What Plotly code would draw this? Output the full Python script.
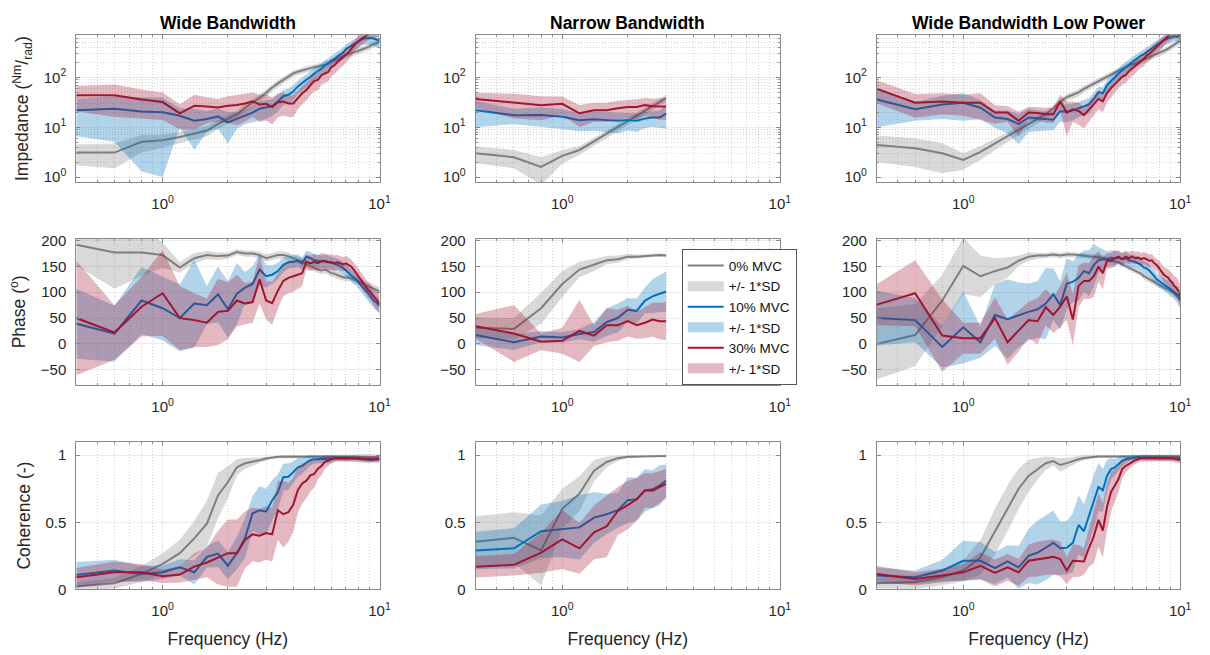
import numpy as np
import plotly.graph_objects as go

# ---------------------------------------------------------------------------
# Frequency grids (Hz)
# ---------------------------------------------------------------------------
freq_wide = [0.4, 0.6, 0.8, 1.0, 1.2, 1.4, 1.6, 1.8, 2.0, 2.2, 2.4, 2.6, 2.8, 3.0,
             3.2, 3.4, 3.6, 3.8, 4.0, 4.2, 4.4, 4.6, 4.8, 5.0, 5.2, 5.4, 5.6, 5.8,
             6.0, 6.2, 6.4, 6.6, 6.8, 7.0, 7.2, 7.4, 7.6, 7.8, 8.0, 8.2, 8.4, 8.6,
             8.8, 9.0, 9.2, 9.4, 9.6, 9.8, 10.0]
freq_narrow = [0.4, 0.6, 0.8, 1.0, 1.2, 1.4, 1.6, 1.8, 2.0, 2.2, 2.4, 2.6, 2.8, 3.0]

column_titles = ["Wide Bandwidth", "Narrow Bandwidth", "Wide Bandwidth Low Power"]
series_names = ["0% MVC", "10% MVC", "30% MVC"]
band_name = "+/- 1*SD"

# ---------------------------------------------------------------------------
# Wide bandwidth: impedance (Nm/rad), mean and SD
# ---------------------------------------------------------------------------
wide_imp_0_mean = [3.1, 3.1, 5.1, 5.5, 6.4, 7.4, 8.6, 11.7, 14.6, 18.3, 24.7, 31, 39, 49,
                   63, 76, 89, 103, 120, 130, 139, 147, 154, 160, 167, 173, 180, 195,
                   210, 222, 236, 250, 266, 280, 295, 305, 318, 330, 344, 357, 370, 385,
                   400, 420, 444, 465, 486, 503, 520]
wide_imp_0_sd = [1.4, 1.6, 2.0, 1.6, 1.6, 1.8, 2.0, 2.5, 3, 3.5, 4.5, 5.5, 7, 8.5,
                 10, 12, 13, 15, 17, 18, 19, 20, 21, 22, 23, 24, 25, 27,
                 29, 31, 33, 35, 37, 39, 41, 43, 45, 47, 50, 52, 55, 58,
                 60, 64, 68, 72, 76, 80, 84]
wide_imp_10_mean = [22, 23.6, 20.6, 20, 17, 13.5, 14.6, 16.5, 12.5, 14.6, 17, 19.6, 23.6, 24.7,
                    26.6, 33, 42, 45, 52, 66, 76, 89, 103, 120, 133, 150, 175, 188,
                    219, 236, 266, 295, 318, 370, 400, 430, 465, 500, 540, 580, 600, 610,
                    615, 615, 610, 605, 585, 565, 545]
wide_imp_10_sd = [15.4, 18.5, 19.3, 19, 7, 10, 6.6, 7.2, 7.8, 5.3, 5.4, 7, 10, 10,
                  10, 12, 14, 15, 17, 20, 23, 26, 30, 34, 38, 42, 48, 52,
                  58, 63, 70, 77, 83, 95, 100, 108, 115, 122, 130, 138, 145, 150,
                  155, 160, 165, 170, 170, 170, 170]
wide_imp_30_mean = [44, 44, 36, 32, 19, 27, 26, 25, 27, 28, 30, 33, 28.7, 29.6,
                    25.4, 31.8, 33, 30, 30, 39, 48, 56, 71, 85, 89, 111, 120, 129,
                    162, 175, 204, 228, 254, 282, 318, 370, 430, 488, 540, 580, 630, 690,
                    740, 790, 820, 840, 860, 880, 900]
wide_imp_30_sd = [23, 28, 21, 18, 10, 18, 14, 12, 15, 17, 17, 17, 16, 16,
                  14, 16, 16, 14, 14, 16, 19, 22, 27, 32, 34, 40, 43, 46,
                  55, 58, 65, 72, 78, 85, 95, 105, 120, 135, 150, 160, 170, 180,
                  190, 200, 210, 215, 220, 225, 230]

# Wide bandwidth: phase (deg)
wide_ph_0_mean = [192, 177, 177, 172, 148, 166, 172, 170, 171, 178, 175, 175, 172, 166,
                  169, 172, 172, 170, 166, 163, 160, 154, 150, 147, 144, 142, 144, 141,
                  137, 136, 133, 131, 129, 128, 129, 127, 125, 123, 122, 119, 117, 114,
                  112, 111, 109, 107, 106, 104, 102]
wide_ph_0_sd = [40, 70, 45, 25, 10, 10, 8, 7, 6, 6, 6, 6, 7, 7,
                7, 7, 7, 7, 7, 7, 7, 7, 7, 7, 7, 7, 7, 7,
                7, 7, 7, 7, 7, 7, 7, 7, 7, 7, 7, 7, 8, 8,
                8, 8, 8, 8, 8, 8, 8]
wide_ph_10_mean = [39, 20, 84, 69, 50, 78, 75, 96, 67, 97, 109, 116, 144, 131,
                   134, 141, 153, 158, 159, 161, 156, 169, 166, 162, 161, 159, 161, 159,
                   156, 154, 153, 150, 147, 142, 137, 134, 128, 125, 119, 114, 109, 104,
                   100, 94, 89, 84, 81, 78, 73]
wide_ph_10_sd = [68, 54, 65, 62, 65, 85, 37, 54, 55, 59, 30, 34, 31, 22,
                 18, 16, 14, 12, 12, 12, 12, 12, 12, 12, 12, 12, 12, 12,
                 12, 12, 12, 12, 12, 12, 12, 12, 12, 12, 12, 13, 13, 14,
                 14, 15, 15, 15, 15, 15, 15]
wide_ph_30_mean = [50, 22, 72, 98, 50, 46, 41, 62, 64, 84, 78, 81, 125, 84,
                   79, 103, 122, 128, 131, 134, 137, 159, 156, 159, 156, 161, 159, 158,
                   158, 156, 158, 156, 154, 156, 153, 150, 144, 137, 131, 125, 119, 112,
                   106, 102, 97, 91, 86, 81, 78]
wide_ph_30_sd = [111, 53, 58, 83, 62, 52, 47, 64, 55, 50, 40, 40, 47, 37,
                 42, 35, 30, 30, 30, 28, 25, 15, 15, 15, 15, 15, 15, 15,
                 15, 15, 14, 14, 14, 14, 14, 14, 14, 14, 14, 14, 14, 15,
                 15, 15, 16, 16, 17, 17, 17]

# Wide bandwidth: coherence (-)
wide_coh_0_mean = [0.022, 0.046, 0.115, 0.19, 0.27, 0.38, 0.49, 0.70, 0.80, 0.91, 0.94, 0.95, 0.963, 0.976,
                   0.983, 0.988, 0.99, 0.99, 0.99, 0.99, 0.99, 0.99, 0.99, 0.99, 0.99, 0.99, 0.99, 0.99,
                   0.99, 0.99, 0.99, 0.99, 0.99, 0.99, 0.99, 0.99, 0.99, 0.99, 0.99, 0.99, 0.985, 0.985,
                   0.985, 0.985, 0.985, 0.985, 0.985, 0.985, 0.985]
wide_coh_0_sd = [0.03, 0.04, 0.06, 0.08, 0.10, 0.13, 0.17, 0.17, 0.12, 0.06, 0.04, 0.03, 0.02, 0.015,
                 0.01, 0.01, 0.01, 0.01, 0.01, 0.01, 0.01, 0.01, 0.01, 0.01, 0.01, 0.01, 0.01, 0.01,
                 0.01, 0.01, 0.01, 0.01, 0.01, 0.01, 0.01, 0.01, 0.01, 0.01, 0.015, 0.02, 0.025, 0.03,
                 0.03, 0.03, 0.03, 0.025, 0.02, 0.02, 0.02]
wide_coh_10_mean = [0.108, 0.14, 0.115, 0.127, 0.164, 0.127, 0.242, 0.267, 0.176, 0.27, 0.384, 0.567, 0.59, 0.58,
                    0.665, 0.726, 0.836, 0.84, 0.873, 0.91, 0.92, 0.946, 0.963, 0.97, 0.97, 0.97, 0.97, 0.97,
                    0.972, 0.975, 0.978, 0.978, 0.978, 0.978, 0.978, 0.978, 0.978, 0.978, 0.975, 0.972, 0.97, 0.968,
                    0.965, 0.965, 0.965, 0.968, 0.97, 0.972, 0.975]
wide_coh_10_sd = [0.095, 0.08, 0.06, 0.05, 0.06, 0.09, 0.08, 0.10, 0.10, 0.12, 0.15, 0.13, 0.18, 0.17,
                  0.15, 0.13, 0.10, 0.10, 0.08, 0.07, 0.06, 0.05, 0.04, 0.03, 0.03, 0.03, 0.03, 0.03,
                  0.03, 0.025, 0.02, 0.02, 0.02, 0.02, 0.02, 0.02, 0.02, 0.02, 0.02, 0.02, 0.02, 0.02,
                  0.02, 0.02, 0.02, 0.02, 0.02, 0.02, 0.02]
wide_coh_30_mean = [0.09, 0.127, 0.127, 0.098, 0.11, 0.17, 0.20, 0.237, 0.27, 0.27, 0.37, 0.41, 0.40, 0.42,
                    0.41, 0.59, 0.56, 0.575, 0.63, 0.74, 0.79, 0.81, 0.85, 0.86, 0.90, 0.92, 0.95, 0.96,
                    0.97, 0.978, 0.978, 0.978, 0.978, 0.978, 0.978, 0.978, 0.978, 0.975, 0.975, 0.972, 0.972, 0.97,
                    0.97, 0.97, 0.97, 0.968, 0.968, 0.968, 0.968]
wide_coh_30_sd = [0.07, 0.08, 0.06, 0.05, 0.06, 0.10, 0.11, 0.20, 0.25, 0.25, 0.21, 0.20, 0.20, 0.20,
                  0.20, 0.22, 0.25, 0.22, 0.20, 0.17, 0.15, 0.13, 0.12, 0.10, 0.08, 0.07, 0.05, 0.04,
                  0.03, 0.025, 0.025, 0.025, 0.025, 0.025, 0.025, 0.025, 0.025, 0.025, 0.025, 0.025, 0.025, 0.025,
                  0.025, 0.025, 0.025, 0.025, 0.025, 0.025, 0.025]

# ---------------------------------------------------------------------------
# Narrow bandwidth
# ---------------------------------------------------------------------------
narrow_imp_0_mean = [3.0, 2.5, 1.6, 2.66, 3.5, 5.2, 7.4, 10.1, 13.3, 17.2, 21.6, 26.2, 32, 38.7]
narrow_imp_0_sd = [1.1, 1.0, 0.9, 0.8, 0.7, 0.9, 1.2, 1.6, 2.0, 2.6, 3.2, 3.9, 4.8, 6.0]
narrow_imp_10_mean = [22, 17.5, 17.7, 16.2, 13.9, 14.5, 13.9, 13.5, 13.9, 13.5, 15, 15.7, 15.7, 18.8]
narrow_imp_10_sd = [12, 6, 7.5, 7, 5.6, 6, 6, 6, 5.3, 5.5, 5.5, 5.5, 6, 9.5]
narrow_imp_30_mean = [37, 31, 27.8, 29.5, 19.1, 21.9, 21.9, 24, 25.4, 25.4, 27.8, 26.5, 26.2, 26.2]
narrow_imp_30_sd = [13, 16, 14, 12, 9, 9, 9, 10, 10, 11, 11, 11, 12, 12]

narrow_ph_0_mean = [31, 29, 69, 116, 144, 153, 162, 164, 169, 169, 170, 171, 172, 171]
narrow_ph_0_sd = [20, 21, 30, 25, 15, 12, 8, 7, 5, 4, 3, 3, 3, 3]
narrow_ph_10_mean = [17, 3, 14, 12.5, 19, 23, 42, 50, 66, 64, 84, 92, 97, 101]
narrow_ph_10_sd = [19, 15, 11, 10, 10, 19, 27, 28, 23, 24, 25, 33, 36, 39]
narrow_ph_30_mean = [34, 20, 4, 6, 25, 16, 36, 36, 44, 36, 41, 47, 44, 44]
narrow_ph_30_sd = [24, 55, 16, 25, 60, 20, 33, 30, 30, 26, 30, 33, 35, 37]

narrow_coh_0_mean = [0.355, 0.384, 0.29, 0.60, 0.714, 0.885, 0.95, 0.978, 0.988, 0.99, 0.995, 0.995, 0.995, 0.995]
narrow_coh_0_sd = [0.19, 0.19, 0.26, 0.15, 0.13, 0.08, 0.04, 0.02, 0.01, 0.01, 0.005, 0.005, 0.005, 0.005]
narrow_coh_10_mean = [0.29, 0.306, 0.433, 0.45, 0.462, 0.535, 0.56, 0.59, 0.665, 0.672, 0.738, 0.746, 0.775, 0.81]
narrow_coh_10_sd = [0.14, 0.15, 0.20, 0.21, 0.24, 0.19, 0.15, 0.13, 0.17, 0.16, 0.16, 0.14, 0.15, 0.12]
narrow_coh_30_mean = [0.169, 0.183, 0.274, 0.372, 0.306, 0.425, 0.47, 0.584, 0.628, 0.672, 0.738, 0.736, 0.763, 0.787]
narrow_coh_30_sd = [0.08, 0.08, 0.15, 0.22, 0.19, 0.20, 0.23, 0.18, 0.18, 0.16, 0.13, 0.13, 0.12, 0.11]

# ---------------------------------------------------------------------------
# Wide bandwidth, low power
# ---------------------------------------------------------------------------
low_imp_0_mean = [4.4, 3.8, 3.0, 2.2, 3.2, 4.7, 6.4, 8.6, 11.3, 14.6, 18.3, 24, 33, 40,
                  45, 50, 59, 67, 76, 85, 93, 106, 116, 129, 139, 150, 162, 175,
                  180, 188, 203, 215, 225, 236, 254, 266, 282, 291, 304, 318, 338, 358,
                  380, 400, 430, 457, 486, 517, 540]
low_imp_0_sd = [2.4, 2.2, 1.8, 0.8, 1.0, 1.2, 1.5, 1.8, 2.2, 2.7, 3.2, 4, 5, 6,
                7, 8, 9, 10, 11, 12, 13, 15, 16, 18, 19, 21, 22, 24,
                25, 26, 28, 30, 31, 33, 35, 37, 39, 40, 42, 44, 47, 50,
                53, 56, 60, 64, 68, 72, 76]
low_imp_10_mean = [36, 22.9, 28.7, 31, 24.7, 15.7, 14.6, 11.6, 15.7, 15.2, 14.6, 14.1, 21, 20.5,
                   21.8, 24, 26.5, 28.7, 37.6, 50.8, 48.5, 70, 85, 103, 120, 139, 162, 180,
                   203, 228, 254, 275, 295, 318, 353, 380, 417, 450, 490, 517, 560, 580,
                   610, 646, 660, 680, 660, 680, 700]
low_imp_10_sd = [26, 9.4, 14, 17.5, 10, 6, 7, 7, 7.7, 7, 6, 5.5, 8, 8,
                 8, 8, 9, 10, 12, 15, 15, 20, 25, 30, 35, 40, 45, 50,
                 55, 60, 65, 70, 75, 80, 88, 95, 100, 110, 120, 125, 130, 135,
                 140, 145, 150, 150, 150, 150, 150]
low_imp_30_mean = [59, 31, 33, 31, 31, 19.7, 19.7, 13.5, 19.7, 19.4, 18.3, 18.3, 33, 19.7,
                   22.9, 21.2, 17.5, 22.9, 29.5, 37, 33, 48.5, 61, 73, 89, 103, 111, 133,
                   150, 169, 196, 219, 236, 275, 295, 330, 370, 400, 444, 500, 560, 630,
                   680, 720, 760, 780, 800, 800, 820]
low_imp_30_sd = [29, 15.5, 15, 14, 17, 8, 7, 7, 6, 6, 6, 6, 12, 13,
                 10, 10, 8, 10, 12, 14, 13, 17, 20, 24, 28, 32, 35, 40,
                 45, 50, 55, 62, 68, 75, 82, 90, 100, 110, 120, 130, 140, 150,
                 160, 170, 180, 190, 200, 200, 200]

low_ph_0_mean = [0, 17, 84, 151, 131, 141, 148, 161, 169, 171, 171, 173, 171, 173,
                 173, 172, 171, 170, 169, 169, 167, 164, 162, 161, 158, 154, 151, 148,
                 145, 142, 139, 136, 131, 128, 125, 122, 119, 116, 114, 112, 109, 107,
                 106, 103, 101, 98, 96, 92, 89]
low_ph_0_sd = [69, 60, 50, 55, 40, 25, 20, 10, 8, 6, 5, 5, 5, 5,
               5, 5, 5, 5, 5, 5, 5, 5, 5, 5, 5, 5, 5, 5,
               5, 5, 5, 5, 6, 6, 6, 6, 6, 6, 6, 6, 6, 6,
               6, 6, 6, 6, 6, 6, 6]
low_ph_10_mean = [50, 46, -6, 32, 3, 56, 48, 56, 62, 67, 78, 96, 75, 117,
                  120, 128, 141, 137, 153, 162, 164, 164, 167, 166, 167, 164, 166, 162,
                  161, 159, 156, 153, 148, 146, 142, 137, 131, 125, 122, 119, 116, 112,
                  109, 106, 103, 100, 97, 92, 84]
low_ph_10_sd = [53, 43, 40, 70, 30, 60, 77, 63, 55, 55, 69, 50, 47, 49,
                40, 45, 40, 45, 41, 25, 20, 15, 15, 15, 12, 12, 12, 12,
                12, 12, 12, 12, 12, 12, 12, 12, 12, 12, 12, 12, 12, 12,
                13, 13, 14, 14, 15, 15, 15]
low_ph_30_mean = [76, 98, 16, 11, 11, 50, 3, 25, 46, 44, 71, 56, 72, 92,
                  47, 112, 122, 122, 131, 150, 137, 161, 161, 166, 169, 164, 169, 166,
                  169, 166, 167, 164, 166, 164, 161, 162, 156, 153, 147, 141, 134, 131,
                  128, 122, 119, 112, 109, 103, 92]
low_ph_30_sd = [40, 64, 70, 30, 30, 40, 44, 40, 35, 45, 35, 35, 40, 45,
                50, 40, 35, 35, 40, 30, 30, 15, 15, 15, 12, 12, 12, 12,
                12, 12, 12, 12, 12, 12, 12, 12, 12, 12, 14, 14, 15, 16,
                17, 18, 18, 19, 20, 20, 20]

low_coh_0_mean = [0.046, 0.054, 0.09, 0.14, 0.237, 0.433, 0.604, 0.75, 0.846, 0.897, 0.94, 0.956, 0.927, 0.941,
                  0.958, 0.97, 0.98, 0.985, 0.99, 0.99, 0.99, 0.99, 0.99, 0.99, 0.99, 0.99, 0.99, 0.99,
                  0.99, 0.99, 0.99, 0.99, 0.99, 0.99, 0.99, 0.99, 0.99, 0.99, 0.99, 0.99, 0.99, 0.99,
                  0.99, 0.99, 0.99, 0.99, 0.99, 0.99, 0.99]
low_coh_0_sd = [0.04, 0.05, 0.06, 0.08, 0.13, 0.17, 0.17, 0.15, 0.12, 0.08, 0.05, 0.03, 0.05, 0.04,
                0.03, 0.02, 0.02, 0.015, 0.01, 0.01, 0.01, 0.01, 0.01, 0.01, 0.01, 0.01, 0.01, 0.01,
                0.01, 0.01, 0.01, 0.01, 0.01, 0.01, 0.01, 0.01, 0.01, 0.01, 0.01, 0.01, 0.01, 0.01,
                0.01, 0.015, 0.015, 0.015, 0.015, 0.015, 0.015]
low_coh_10_mean = [0.103, 0.09, 0.14, 0.213, 0.213, 0.159, 0.208, 0.164, 0.25, 0.274, 0.31, 0.347, 0.306, 0.31,
                   0.347, 0.48, 0.433, 0.555, 0.653, 0.763, 0.738, 0.848, 0.897, 0.91, 0.934, 0.958, 0.97, 0.975,
                   0.983, 0.983, 0.983, 0.983, 0.983, 0.983, 0.983, 0.983, 0.983, 0.983, 0.983, 0.98, 0.98, 0.98,
                   0.98, 0.978, 0.978, 0.978, 0.978, 0.978, 0.978]
low_coh_10_sd = [0.06, 0.05, 0.08, 0.15, 0.14, 0.12, 0.12, 0.16, 0.20, 0.24, 0.24, 0.24, 0.20, 0.20,
                 0.22, 0.22, 0.20, 0.20, 0.20, 0.18, 0.16, 0.12, 0.08, 0.06, 0.05, 0.04, 0.03, 0.02,
                 0.02, 0.02, 0.02, 0.02, 0.02, 0.02, 0.02, 0.02, 0.02, 0.02, 0.02, 0.02, 0.02, 0.02,
                 0.02, 0.02, 0.02, 0.02, 0.02, 0.02, 0.02]
low_coh_30_mean = [0.115, 0.078, 0.103, 0.127, 0.176, 0.122, 0.164, 0.127, 0.213, 0.225, 0.237, 0.242, 0.225, 0.14,
                   0.213, 0.213, 0.208, 0.31, 0.396, 0.518, 0.438, 0.616, 0.726, 0.775, 0.824, 0.897, 0.92, 0.934,
                   0.95, 0.963, 0.97, 0.978, 0.978, 0.978, 0.978, 0.978, 0.978, 0.978, 0.978, 0.978, 0.978, 0.978,
                   0.978, 0.978, 0.978, 0.975, 0.97, 0.968, 0.965]
low_coh_30_sd = [0.06, 0.05, 0.05, 0.06, 0.10, 0.10, 0.10, 0.10, 0.12, 0.13, 0.13, 0.13, 0.13, 0.10,
                 0.12, 0.12, 0.10, 0.14, 0.20, 0.20, 0.20, 0.18, 0.15, 0.12, 0.10, 0.07, 0.05, 0.04,
                 0.03, 0.03, 0.025, 0.025, 0.025, 0.025, 0.025, 0.025, 0.025, 0.025, 0.025, 0.025, 0.025, 0.025,
                 0.025, 0.025, 0.025, 0.025, 0.025, 0.025, 0.025]

# ---------------------------------------------------------------------------
# Panel table: (row, col, frequency grid, kind, [(mean, sd) per MVC level])
# ---------------------------------------------------------------------------
panels = [
    (0, 0, freq_wide, "imp", [(wide_imp_0_mean, wide_imp_0_sd), (wide_imp_10_mean, wide_imp_10_sd), (wide_imp_30_mean, wide_imp_30_sd)]),
    (0, 1, freq_narrow, "imp", [(narrow_imp_0_mean, narrow_imp_0_sd), (narrow_imp_10_mean, narrow_imp_10_sd), (narrow_imp_30_mean, narrow_imp_30_sd)]),
    (0, 2, freq_wide, "imp", [(low_imp_0_mean, low_imp_0_sd), (low_imp_10_mean, low_imp_10_sd), (low_imp_30_mean, low_imp_30_sd)]),
    (1, 0, freq_wide, "ph", [(wide_ph_0_mean, wide_ph_0_sd), (wide_ph_10_mean, wide_ph_10_sd), (wide_ph_30_mean, wide_ph_30_sd)]),
    (1, 1, freq_narrow, "ph", [(narrow_ph_0_mean, narrow_ph_0_sd), (narrow_ph_10_mean, narrow_ph_10_sd), (narrow_ph_30_mean, narrow_ph_30_sd)]),
    (1, 2, freq_wide, "ph", [(low_ph_0_mean, low_ph_0_sd), (low_ph_10_mean, low_ph_10_sd), (low_ph_30_mean, low_ph_30_sd)]),
    (2, 0, freq_wide, "coh", [(wide_coh_0_mean, wide_coh_0_sd), (wide_coh_10_mean, wide_coh_10_sd), (wide_coh_30_mean, wide_coh_30_sd)]),
    (2, 1, freq_narrow, "coh", [(narrow_coh_0_mean, narrow_coh_0_sd), (narrow_coh_10_mean, narrow_coh_10_sd), (narrow_coh_30_mean, narrow_coh_30_sd)]),
    (2, 2, freq_wide, "coh", [(low_coh_0_mean, low_coh_0_sd), (low_coh_10_mean, low_coh_10_sd), (low_coh_30_mean, low_coh_30_sd)]),
]

# ---------------------------------------------------------------------------
# Styling
# ---------------------------------------------------------------------------
W, H = 1210, 655
FONT = "Liberation Sans, Arial, Helvetica, sans-serif"
TXT = "#262626"
AXLINE = "#8a8a8a"
line_colors = ["#7f7f7f", "#0072bd", "#a2142f"]
band_colors = ["rgba(128,128,128,0.30)", "rgba(0,114,189,0.30)", "rgba(162,20,47,0.30)"]
band_swatch = ["#d9d9d9", "#b2d5eb", "#e3b8c1"]

col_px = [(77, 383), (480, 787), (885, 1191)]
row_px = [(29, 179), (237, 387), (445, 596)]

fig = go.Figure()

LEGEND_PANEL = 4  # middle phase panel
for idx, (r, c, freq, kind, series) in enumerate(panels):
    n = r * 3 + c + 1
    xa = "x" if n == 1 else f"x{n}"
    ya = "y" if n == 1 else f"y{n}"
    for s, (mean, sd) in enumerate(series):
        m = np.asarray(mean, dtype=float)
        d = np.asarray(sd, dtype=float)
        hi = m + d
        lo = m - d
        if kind == "imp":
            lo = np.maximum(lo, 0.05)
        fig.add_trace(go.Scatter(
            x=list(freq) + list(freq[::-1]), y=list(hi) + list(lo[::-1]),
            fill="toself", fillcolor=band_colors[s], mode="lines",
            line=dict(width=0, color=band_colors[s]), hoverinfo="skip",
            showlegend=False, xaxis=xa, yaxis=ya))
        fig.add_trace(go.Scatter(
            x=freq, y=m, mode="lines", line=dict(color=line_colors[s], width=2),
            name=series_names[s], legendrank=2 * s + 1,
            showlegend=(idx == LEGEND_PANEL), xaxis=xa, yaxis=ya))
        if idx == LEGEND_PANEL:
            # legend swatch for the +/- 1 SD band
            fig.add_trace(go.Scatter(
                x=[None], y=[None], mode="lines",
                line=dict(color=band_swatch[s], width=13),
                name=band_name, legendrank=2 * s + 2, showlegend=True,
                xaxis=xa, yaxis=ya))

x_minor = [0.5, 0.6, 0.7, 0.8, 0.9, 2, 3, 4, 5, 6, 7, 8, 9]
y_minor_log = [2, 3, 4, 5, 6, 7, 8, 9, 20, 30, 40, 50, 60, 70, 80, 90,
               200, 300, 400, 500, 600, 700]
GRID = "rgba(38,38,38,0.09)"
MGRID = "rgba(38,38,38,0.20)"
MDASH = "1px,2px"

layout = dict(
    width=W, height=H, margin=dict(l=0, r=0, t=0, b=0),
    paper_bgcolor="white", plot_bgcolor="white",
    font=dict(family=FONT, color=TXT, size=15),
    showlegend=True,
    legend=dict(x=688 / W, y=1 - 248 / H, xanchor="left", yanchor="top",
                bgcolor="white", bordercolor="#555555", borderwidth=1,
                font=dict(family=FONT, size=13.5, color="#111111"),
                itemwidth=36, traceorder="normal", tracegroupgap=0),
    annotations=[],
)

for n in range(1, 10):
    r, c = (n - 1) // 3, (n - 1) % 3
    x0, x1 = col_px[c]
    y0, y1 = row_px[r]
    kx = "xaxis" if n == 1 else f"xaxis{n}"
    ky = "yaxis" if n == 1 else f"yaxis{n}"
    common = dict(showline=True, linecolor=AXLINE, linewidth=1, mirror="ticks",
                  ticks="inside", ticklen=4, tickcolor=AXLINE, showgrid=True,
                  gridcolor=GRID, gridwidth=1, zeroline=False,
                  tickfont=dict(family=FONT, size=15, color=TXT))
    xa = dict(common, domain=[x0 / W, x1 / W], anchor="y" if n == 1 else f"y{n}",
              type="log", range=[np.log10(0.4), 1.0],
              tickvals=[1, 10], ticktext=["10<sup>0</sup>", "10<sup>1</sup>"],
              ticklabelstandoff=8,
              minor=dict(tickvals=x_minor, ticks="inside", ticklen=2, tickcolor=AXLINE,
                         showgrid=True, gridcolor=MGRID, griddash=MDASH, gridwidth=1))
    if r == 2:
        xa["title"] = dict(text="Frequency (Hz)", font=dict(family=FONT, size=17.5, color=TXT), standoff=14)
    ya = dict(common, domain=[1 - y1 / H, 1 - y0 / H], anchor="x" if n == 1 else f"x{n}",
              ticklabelstandoff=6)
    if r == 0:
        ya.update(type="log", range=[np.log10(0.8), np.log10(700)],
                  tickvals=[1, 10, 100], ticktext=["10<sup>0</sup>", "10<sup>1</sup>", "10<sup>2</sup>"],
                  minor=dict(tickvals=y_minor_log, ticks="inside", ticklen=2, tickcolor=AXLINE,
                             showgrid=True, gridcolor=MGRID, griddash=MDASH, gridwidth=1))
        ytitle = "Impedance (<sup>Nm</sup>/<sub>rad</sub>)"
    elif r == 1:
        ya.update(range=[-80, 204], tickvals=[-50, 0, 50, 100, 150, 200])
        ytitle = "Phase (<sup>o</sup>)"
    else:
        ya.update(range=[0, 1.1], tickvals=[0, 0.5, 1], ticktext=["0", "0.5", "1"])
        ytitle = "Coherence (-)"
    if c == 0:
        ya["title"] = dict(text=ytitle, font=dict(family=FONT, size=17.5, color=TXT), standoff=10)
    layout[kx] = xa
    layout[ky] = ya

for c, title in enumerate(column_titles):
    x0, x1 = col_px[c]
    layout["annotations"].append(dict(
        text=f"<b>{title}</b>", x=(x0 + x1) / 2 / W, y=1 - 16 / H,
        xref="paper", yref="paper", xanchor="center", yanchor="middle",
        showarrow=False, font=dict(family=FONT, size=17.5, color="#000000")))

fig.update_layout(**layout)
fig.write_html("out.html")
